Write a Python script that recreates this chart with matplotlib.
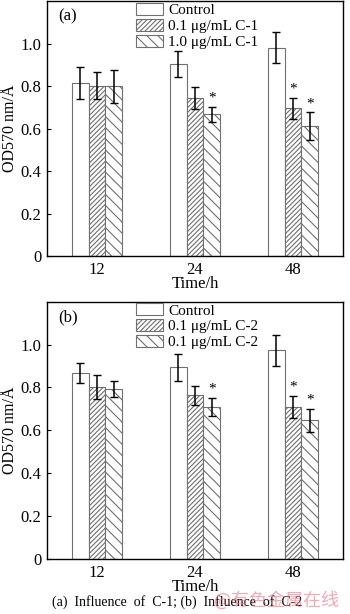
import matplotlib
matplotlib.use("Agg")
import matplotlib.pyplot as plt
import numpy as np

plt.rcParams['font.family'] = ['Liberation Serif', 'DejaVu Serif']
plt.rcParams['hatch.linewidth'] = 0.8

times = ["12", "24", "48"]
labels_a = ["Control", "0.1 μg/mL C-1", "1.0 μg/mL C-1"]
labels_b = ["Control", "0.1 μg/mL C-2", "0.1 μg/mL C-2"]

vals_a = [[0.816, 0.904, 0.980],
          [0.803, 0.745, 0.695],
          [0.800, 0.667, 0.612]]
errs_a = [[0.075, 0.060, 0.073],
          [0.065, 0.053, 0.050],
          [0.078, 0.036, 0.064]]
vals_b = [[0.867, 0.895, 0.973],
          [0.802, 0.763, 0.710],
          [0.792, 0.710, 0.646]]
errs_b = [[0.045, 0.063, 0.074],
          [0.055, 0.046, 0.052],
          [0.037, 0.042, 0.053]]
# significance markers (series, group)
stars = [(2, 1), (1, 2), (2, 2)]

hatches = ["", "///////", "\\\\\\"]
edge = "#707070"

fig = plt.figure(figsize=(3.5, 6.14), dpi=100)
ax_a = fig.add_axes([0.134, 0.583, 0.846, 0.415])
ax_b = fig.add_axes([0.134, 0.0896, 0.846, 0.419])

def draw(ax, vals, errs, labels, tag):
    x = np.arange(len(times))
    w = 0.17
    for i in range(3):
        pos = x + (i - 1) * w
        ax.bar(pos, vals[i], w, color="white", edgecolor=edge, linewidth=0.8,
               hatch=hatches[i], label=labels[i])
        ax.errorbar(pos, vals[i], yerr=errs[i], fmt="none", ecolor="black",
                    elinewidth=1.1, capsize=2.8, capthick=1.0)
    for (s, g) in stars:
        ax.text(x[g] + (s - 1) * w, vals[s][g] + errs[s][g] + 0.01, "*",
                ha="center", va="bottom", fontsize=11)
    ax.set_xlim(-0.51, 2.51)
    ax.set_ylim(0, 1.2)
    ax.set_yticks([0, 0.2, 0.4, 0.6, 0.8, 1.0])
    ax.set_yticklabels(["0", "0.2", "0.4", "0.6", "0.8", "1.0"])
    ax.set_xticks(x)
    ax.set_xticklabels(times)
    ax.tick_params(axis="y", direction="in", length=3, labelsize=12, width=0.8, pad=4)
    ax.tick_params(axis="x", length=0, labelsize=12, pad=4)
    ax.set_xlabel("Time/h", fontsize=12, labelpad=-1)
    ax.set_ylabel("OD570 nm/Å", fontsize=11.5, labelpad=2)
    for sp in ax.spines.values():
        sp.set_linewidth(1.0)
    ax.text(0.04, 0.97, tag, transform=ax.transAxes, fontsize=12, va="top", ha="left")
    ax.legend(loc="upper left", bbox_to_anchor=(0.27, 1.03), frameon=False,
              fontsize=11, handlelength=1.75, handleheight=0.85,
              handletextpad=0.35, labelspacing=0.1, borderaxespad=0.2)

draw(ax_a, vals_a, errs_a, labels_a, "(a)")
draw(ax_b, vals_b, errs_b, labels_b, "(b)")

fig.text(0.15, 0.02, "(a)  Influence  of  C-1; (b)  Influence  of  C-2",
         fontsize=10, ha="left", va="center")
fig.text(0.612, 0.023, "@有色金属在线", fontsize=13, color="#f07080", alpha=0.6,
         ha="left", va="center", family=["Noto Sans CJK SC", "DejaVu Sans"])

fig.savefig("out.png", dpi=100)
